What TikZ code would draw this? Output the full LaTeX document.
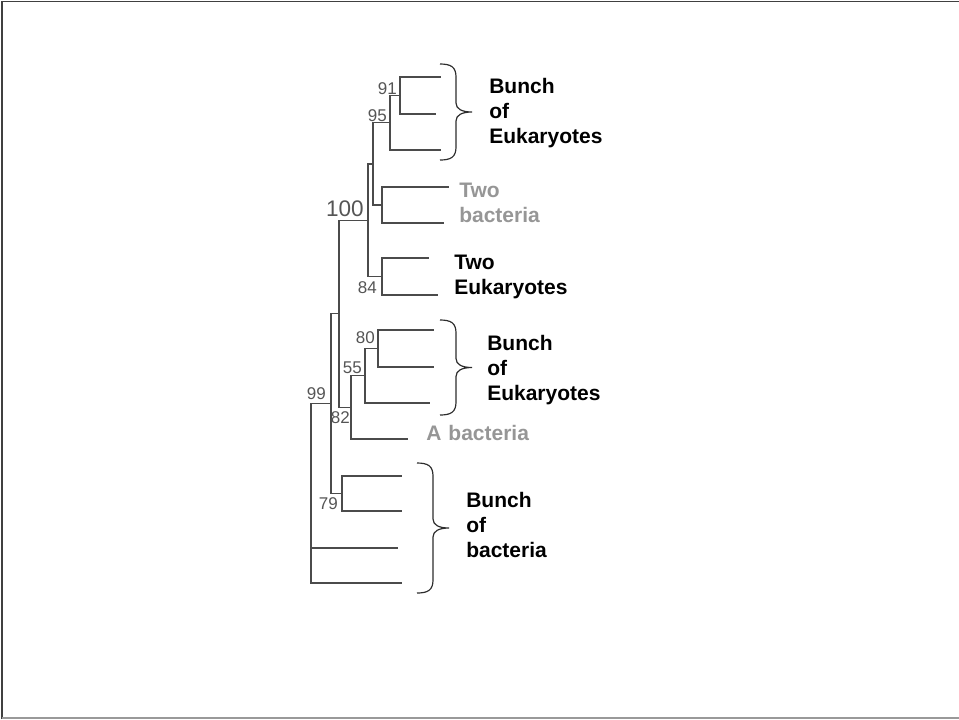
\documentclass[tikz,border=0pt]{standalone}
\usepackage{fontspec}
\setmainfont{Liberation Sans}
\usepackage{xcolor}
\usepackage{tikz}
\definecolor{treegray}{RGB}{75,75,75}
\definecolor{supgray}{RGB}{85,85,85}
\definecolor{bactgray}{RGB}{150,150,150}
\definecolor{bracegray}{RGB}{45,45,45}

\begin{document}
\begin{tikzpicture}[x=0.75pt,y=-0.75pt,
  branch/.style={draw=treegray,line width=1pt,line cap=rect},
  support/.style={anchor=base east,inner sep=0pt,text=supgray,font=\fontsize{12.75}{15}\selectfont},
  group/.style={anchor=base west,inner sep=0pt,text width=4cm,align=left,font=\fontsize{15.75}{18.75}\selectfont\bfseries},
  curly/.style={draw=bracegray,line width=0.9pt}]
  \useasboundingbox (0,0) rectangle (959,719);
  % frame
  \draw[draw=black!75,line width=1.2pt] (2,719) -- (2,1.5) -- (959,1.5);
  \draw[draw=black!40,line width=1.2pt] (2,718) -- (959,718);

  % leaves
  \coordinate (t1) at (440,77);
  \coordinate (t2) at (435,114);
  \coordinate (t3) at (440,150);
  \coordinate (t4) at (448,187);
  \coordinate (t5) at (443,223);
  \coordinate (t6) at (428,258);
  \coordinate (t7) at (437,295);
  \coordinate (t8) at (433,330);
  \coordinate (t9) at (433,367);
  \coordinate (t10) at (429,403);
  \coordinate (t11) at (407,439);
  \coordinate (t12) at (401,476);
  \coordinate (t13) at (401,511);
  \coordinate (t14) at (397,548);
  \coordinate (t15) at (401,583);
  % internal nodes
  \coordinate (n91) at (400,95.5);
  \coordinate (n95) at (390,122.75);
  \coordinate (nTB) at (382,205);
  \coordinate (nA) at (373,163.9);
  \coordinate (n84) at (382,276.5);
  \coordinate (n100) at (368,220.2);
  \coordinate (n80) at (378,348.5);
  \coordinate (n55) at (365,375.75);
  \coordinate (n82) at (351,407.4);
  \coordinate (nB) at (339,313.8);
  \coordinate (n79) at (342,493.5);
  \coordinate (n99) at (331,403.7);
  \coordinate (root) at (311,493.35);

  % branches
  \foreach \p/\c in {n91/t1,n91/t2,n95/n91,n95/t3,nTB/t4,nTB/t5,nA/n95,nA/nTB,
                     n84/t6,n84/t7,n100/nA,n100/n84,n80/t8,n80/t9,n55/n80,n55/t10,
                     n82/n55,n82/t11,nB/n100,nB/n82,n79/t12,n79/t13,n99/nB,n99/n79,
                     root/n99,root/t14,root/t15}{
    \draw[branch] (\p) |- (\c);
  }

  % bootstrap values
  \node[support] (s91) at (397,94) {91};
  \node[support] (s95) at (387,121) {95};
  \node[support,font=\fontsize{16.9}{20}\selectfont] (s100) at (364,216) {100};
  \node[support] (s84) at (377,293) {84};
  \node[support] (s80) at (375,343) {80};
  \node[support] (s55) at (362,373) {55};
  \node[support] (s99) at (326,399) {99};
  \node[support] (s82) at (350,423) {82};
  \node[support] (s79) at (338,509) {79};

  % braces
  \foreach \bx/\btop/\bbot in {440/64/160,440/320/415,417/463/593}{
    \pgfmathsetmacro{\bmid}{(\btop+\bbot)/2}
    \draw[curly] (\bx,\btop) .. controls (\bx+11,\btop) and (\bx+16,\btop+3) .. (\bx+16,\btop+13)
      -- (\bx+16,\bmid-9) .. controls (\bx+16,\bmid-3) and (\bx+22,\bmid) .. (\bx+32,\bmid)
      .. controls (\bx+22,\bmid) and (\bx+16,\bmid+3) .. (\bx+16,\bmid+9)
      -- (\bx+16,\bbot-13) .. controls (\bx+16,\bbot-3) and (\bx+11,\bbot) .. (\bx,\bbot);
  }

  % group labels
  \node[group] (euktop) at (489,93) {Bunch\\of\\Eukaryotes};
  \node[group,text=bactgray] (bacttwo) at (459,197) {Two\\bacteria};
  \node[group] (euktwo) at (454,269) {Two\\Eukaryotes};
  \node[group] (eukmid) at (487,350) {Bunch\\of\\Eukaryotes};
  \node[group,text=bactgray] (bactone) at (426,440) {A bacteria};
  \node[group] (bactlow) at (466,507) {Bunch\\of\\bacteria};
\end{tikzpicture}
\end{document}
